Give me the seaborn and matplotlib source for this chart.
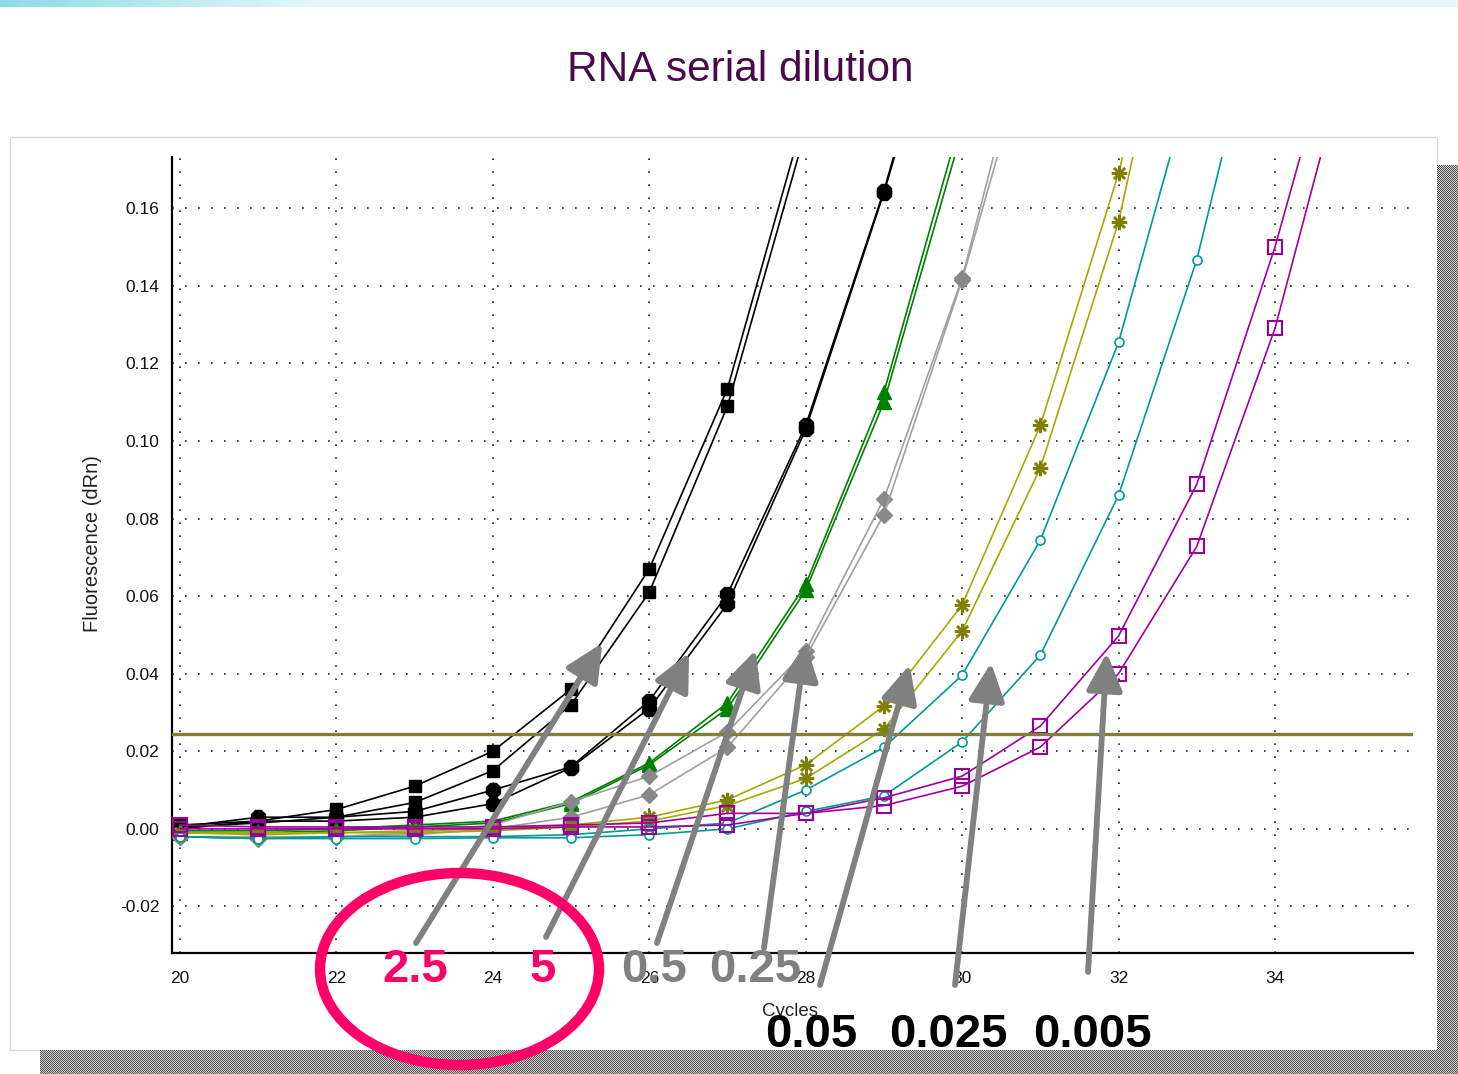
import numpy as np
import pandas as pd
import matplotlib
matplotlib.use("Agg")
import matplotlib.pyplot as plt
import seaborn as sns
from matplotlib.patches import Ellipse, Rectangle
from matplotlib.ticker import FormatStrFormatter, MultipleLocator

# ---------------- data: fluorescence (dRn) per cycle, two replicates per dilution
start_cycle = 20

rep_2_5_a = [0.001, 0.002, 0.005, 0.011, 0.020, 0.036, 0.067, 0.1135, 0.185]
rep_2_5_b = [0.0005, 0.0015, 0.003, 0.0068, 0.015, 0.032, 0.061, 0.109, 0.180]

rep_5_a = [0.0005, 0.003, 0.003, 0.0045, 0.010, 0.016, 0.033, 0.0605, 0.104, 0.1645, 0.235]
rep_5_b = [0.0, 0.002, 0.002, 0.003, 0.0065, 0.0158, 0.031, 0.058, 0.103, 0.164, 0.232]

rep_0_5_a = [-0.0005, -0.0005, 0.0, 0.001, 0.002, 0.007, 0.017, 0.0325, 0.063, 0.1125, 0.184]
rep_0_5_b = [-0.001, -0.001, -0.0005, 0.0005, 0.0015, 0.0065, 0.0165, 0.031, 0.0615, 0.110, 0.180]

rep_0_25_a = [-0.002, -0.002, -0.002, -0.001, 0.001, 0.007, 0.0136, 0.025, 0.0458, 0.085, 0.142, 0.220]
rep_0_25_b = [-0.002, -0.0025, -0.002, -0.0015, 0.0, 0.003, 0.0088, 0.021, 0.0443, 0.081, 0.1415, 0.212]

rep_0_05_a = [-0.001, -0.001, -0.001, -0.0005, 0.0, 0.001, 0.003, 0.0075, 0.0165, 0.0317,
              0.0577, 0.104, 0.169, 0.250]
rep_0_05_b = [-0.001, -0.0015, -0.001, -0.001, -0.0005, 0.0005, 0.002, 0.006, 0.013, 0.0257,
              0.051, 0.093, 0.1565, 0.248]

rep_0_025_a = [-0.002, -0.0025, -0.002, -0.002, -0.002, -0.0015, 0.0, 0.0015, 0.010, 0.021,
               0.0396, 0.0744, 0.1254, 0.198]
rep_0_025_b = [-0.002, -0.0025, -0.0025, -0.0025, -0.0023, -0.0023, -0.0015, 0.0, 0.0045, 0.0085,
               0.0224, 0.0448, 0.086, 0.1467, 0.229]

rep_0_005_a = [0.001, 0.0005, 0.0005, 0.0005, 0.0005, 0.001, 0.0015, 0.004, 0.004, 0.008,
               0.0136, 0.0265, 0.0497, 0.0888, 0.150, 0.222]
rep_0_005_b = [0.0, 0.0, 0.0, 0.0, 0.0, 0.0005, 0.0005, 0.001, 0.004, 0.006,
               0.011, 0.0211, 0.040, 0.0728, 0.129, 0.205]

threshold = 0.0245

dilutions = ["2.5", "5", "0.5", "0.25", "0.05", "0.025", "0.005"]
replicates = {
    "2.5": [rep_2_5_a, rep_2_5_b],
    "5": [rep_5_a, rep_5_b],
    "0.5": [rep_0_5_a, rep_0_5_b],
    "0.25": [rep_0_25_a, rep_0_25_b],
    "0.05": [rep_0_05_a, rep_0_05_b],
    "0.025": [rep_0_025_a, rep_0_025_b],
    "0.005": [rep_0_005_a, rep_0_005_b],
}

# arrow tips (cycle, dRn) for the dilution callouts
callout_tip_x = [25.40, 26.51, 27.36, 28.00, 29.33, 30.37, 31.85]
callout_tip_y = [0.0479, 0.0454, 0.0461, 0.0479, 0.0423, 0.0428, 0.0454]

# ---------------- styles
styles = {
    "2.5":   dict(color="black", lw=1.2, marker="s", ms=9, mfc="black", mec="black", mew=1),
    "5":     dict(color="black", lw=1.2, marker="8", ms=11, mfc="black", mec="black", mew=1),
    "0.5":   dict(color="#008000", lw=1.2, marker="^", ms=10, mfc="#008000", mec="#008000", mew=1),
    "0.25":  dict(color="#a0a0a0", lw=1.2, marker="D", ms=8, mfc="#888888", mec="#888888", mew=1),
    "0.05":  dict(color="#a8a800", lw=1.2, marker=(8, 2, 0), ms=11, mfc="#808000", mec="#808000", mew=1.8),
    "0.025": dict(color="#009999", lw=1.2, marker="o", ms=6.5, mfc="white", mec="#009999", mew=1.2),
    "0.005": dict(color="#a000a0", lw=1.2, marker="s", ms=10, mfc="none", mec="#990099", mew=1.5),
}

sns.set_style("white")
plt.rcParams["font.family"] = ["Liberation Sans", "DejaVu Sans"]

W, H = 1458, 1074
fig = plt.figure(figsize=(W / 100, H / 100), dpi=100)
fig.patch.set_facecolor("white")


def fx(px):
    return px / W


def fy(py):
    return 1 - py / H


# slide frame and drop shadow
fig.add_artist(Rectangle((fx(10), fy(1050)), fx(1427), 913 / H, transform=fig.transFigure,
                         fill=False, ec="#dadada", lw=1.0, zorder=-2))


def checker(h, w, dark=0.32, light=0.82):
    yy, xx = np.mgrid[0:h, 0:w]
    v = np.where((xx + yy) % 2 == 0, dark, light)
    return np.dstack([v, v, v])


fig.figimage(checker(24, W - 40), xo=40, yo=0, origin="upper", zorder=1)
fig.figimage(checker(H - 165, W - 1437), xo=1437, yo=0, origin="upper", zorder=1)

# light cyan banner strip along the top edge
band = np.ones((7, W, 3))
t = np.clip(np.arange(W) / 320.0, 0, 1)
for k, (c0, c1) in enumerate(zip((0.55, 0.86, 0.90), (0.90, 0.97, 0.98))):
    band[:, :, k] = c0 + (c1 - c0) * t
fig.figimage(band, xo=0, yo=H - 7, origin="upper", zorder=1)

# ---------------- main axes
ax = fig.add_axes([fx(172), (H - 953) / H, (1413 - 172) / W, (953 - 157) / H])
ax.set_facecolor("white")

for dil in dilutions:
    rows = []
    for r, vals in enumerate(replicates[dil]):
        for i, v in enumerate(vals):
            rows.append({"cycle": start_cycle + i, "dRn": v, "rep": r})
    df = pd.DataFrame(rows)
    st = styles[dil]
    sns.lineplot(data=df, x="cycle", y="dRn", units="rep", estimator=None, ax=ax,
                 color=st["color"], linewidth=st["lw"], marker=st["marker"],
                 markersize=st["ms"], markerfacecolor=st["mfc"], markeredgecolor=st["mec"],
                 markeredgewidth=st["mew"], legend=False, zorder=3)

ax.axhline(threshold, color="#80803c", lw=2.4, zorder=4)

ax.set_xlim(19.898, 35.765)
ax.set_ylim(-0.032, 0.1732)
ax.xaxis.set_major_locator(MultipleLocator(2))
ax.xaxis.set_minor_locator(MultipleLocator(1))
ax.set_yticks(np.round(np.arange(-0.02, 0.161, 0.02), 2))
ax.set_yticks(np.round(np.arange(-0.03, 0.171, 0.02), 2), minor=True)
ax.set_xticks(np.arange(20, 35, 2))
ax.yaxis.set_major_formatter(FormatStrFormatter("%.2f"))
ax.tick_params(which="both", direction="inout", length=10, width=1.3, color="black")
ax.tick_params(axis="y", which="major", labelsize=12.5, pad=4, labelcolor="#111111")
ax.tick_params(axis="x", which="major", labelsize=12.5, pad=8, labelcolor="#111111")
ax.grid(True, which="major", linestyle=(0, (1, 6.8)), linewidth=1.2, color="#222222")
for side in ("top", "right"):
    ax.spines[side].set_visible(False)
for side in ("left", "bottom"):
    ax.spines[side].set_linewidth(1.6)
    ax.spines[side].set_color("black")
ax.set_xlabel("")
ax.set_ylabel("")

fig.text(fx(93), fy(544), "Fluorescence (dRn)", rotation=90, ha="center", va="center",
         fontsize=14.5, color="#222222")
fig.text(fx(790), fy(1012), "Cycles", ha="center", va="center", fontsize=13.5, color="#222222")
fig.text(fx(740), fy(70), "RNA serial dilution", ha="center", va="center",
         fontsize=30.5, color="#4b0a4b")

# ---------------- callouts
tails_px = [(416, 943), (546, 937), (657, 943), (764, 948), (820, 985), (955, 985), (1088, 972)]
label_pos = [(415, 970), (543, 970), (654, 970), (755, 970), (811, 1035), (948, 1035), (1092, 1035)]
label_col = ["#ff0066", "#ff0066", "#808080", "#808080", "black", "black", "black"]

for dil, tx, ty, (ax_px, ay_px) in zip(dilutions, callout_tip_x, callout_tip_y, tails_px):
    ax.annotate("", xy=(tx, ty), xycoords="data", xytext=(ax_px, H - ay_px),
                textcoords="figure pixels", annotation_clip=False, zorder=10,
                arrowprops=dict(arrowstyle="-|>,head_length=1.15,head_width=0.55",
                                mutation_scale=20, lw=4.2, color="#808080",
                                shrinkA=0, shrinkB=0))

for dil, (lx, ly), col in zip(dilutions, label_pos, label_col):
    fig.text(fx(lx), fy(ly), dil, ha="center", va="center", fontsize=34,
             fontweight="bold", color=col, zorder=12)

fig.add_artist(Ellipse((fx(459.5), fy(969)), 279 / W, 192 / H, transform=fig.transFigure,
                       fill=False, ec="#ff0066", lw=7.5, zorder=11))

fig.savefig("out.png", dpi=100, facecolor="white")
